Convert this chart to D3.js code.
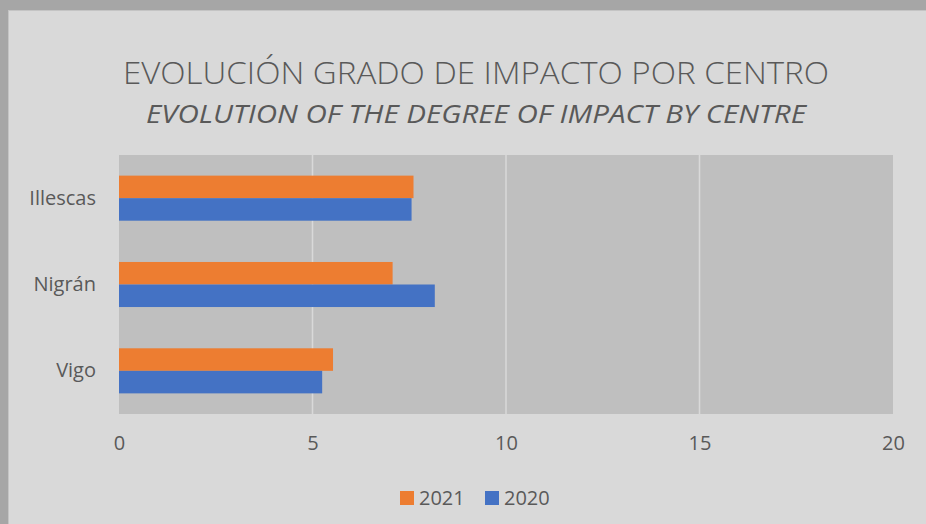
<!DOCTYPE html>
<html>
<head>
<meta charset="utf-8">
<script src="https://cdn.jsdelivr.net/npm/d3@7"></script>
<style>
  body { margin: 0; background: #a6a6a6; }
  svg text { font-family: "Open Sans", sans-serif; fill: #595959; }
</style>
</head>
<body>
<div id="chart"></div>
<script>
// data
var centros = ["Illescas", "Nigrán", "Vigo"];
var series = ["2021", "2020"];
var valores2021 = [7.61, 7.07, 5.53];
var valores2020 = [7.56, 8.16, 5.25];
var ticks = [0, 5, 10, 15, 20];
var colores = ["#ed7d31", "#4472c4"];

var W = 926, H = 524;
var svg = d3.select("#chart").append("svg")
    .attr("width", W).attr("height", H);

// frame (top & left darker edge like the screenshot)
svg.append("rect").attr("width", W).attr("height", H).attr("fill", "#a6a6a6");
svg.append("rect").attr("x", 8).attr("y", 10).attr("width", W - 8).attr("height", H - 10)
    .attr("fill", "#d9d9d9");
svg.append("line").attr("x1", 8).attr("x2", W).attr("y1", 10.5).attr("y2", 10.5)
    .attr("stroke", "#c4c4c4");
svg.append("line").attr("x1", 8.5).attr("x2", 8.5).attr("y1", 10).attr("y2", H)
    .attr("stroke", "#c4c4c4");

// titles
svg.append("text").attr("x", 476).attr("y", 84).attr("text-anchor", "middle")
    .attr("font-size", 32).attr("font-weight", 300)
    .attr("textLength", 706).attr("lengthAdjust", "spacingAndGlyphs")
    .text("EVOLUCIÓN GRADO DE IMPACTO POR CENTRO");
svg.append("text").attr("x", 476).attr("y", 123).attr("text-anchor", "middle")
    .attr("font-size", 25).attr("font-style", "italic")
    .attr("textLength", 660).attr("lengthAdjust", "spacingAndGlyphs")
    .text("EVOLUTION OF THE DEGREE OF IMPACT BY CENTRE");

var pLeft = 119, pRight = 893, pTop = 155, pBottom = 414;

var x = d3.scaleLinear().domain([0, 20]).range([pLeft, pRight]);
var y = d3.scaleBand().domain(centros).range([pTop, pBottom])
    .paddingInner(0.478).paddingOuter(0.239);
var ySub = d3.scaleBand().domain(series).range([0, y.bandwidth()]);

// plot area
svg.append("rect").attr("x", pLeft).attr("y", pTop)
    .attr("width", pRight - pLeft).attr("height", pBottom - pTop)
    .attr("fill", "#bfbfbf");

// grid lines
svg.selectAll(".grid").data(ticks.slice(1, -1)).enter().append("line")
    .attr("class", "grid")
    .attr("x1", function(d) { return x(d); }).attr("x2", function(d) { return x(d); })
    .attr("y1", pTop).attr("y2", pBottom)
    .attr("stroke", "#d9d9d9").attr("stroke-width", 1.5);

var datos = centros.map(function(c, i) {
    return { centro: c, vals: [valores2021[i], valores2020[i]] };
});

var g = svg.selectAll(".grupo").data(datos).enter().append("g")
    .attr("class", "grupo")
    .attr("transform", function(d) { return "translate(0," + y(d.centro) + ")"; });

g.selectAll("rect").data(function(d) { return d.vals; }).enter().append("rect")
    .attr("x", x(0))
    .attr("y", function(d, i) { return ySub(series[i]); })
    .attr("width", function(d) { return x(d) - x(0); })
    .attr("height", ySub.bandwidth())
    .attr("fill", function(d, i) { return colores[i]; });

// x axis labels
var xAxis = d3.axisBottom(x).tickValues(ticks).tickSize(0).tickPadding(22);
var ax = svg.append("g").attr("transform", "translate(0," + pBottom + ")").call(xAxis);
ax.select(".domain").remove();
ax.selectAll("text").attr("font-size", 20).attr("fill", null);
ax.attr("font-family", null).attr("font-size", null);

// y axis labels
var yAxis = d3.axisLeft(y).tickSize(0).tickPadding(23);
var ay = svg.append("g").attr("transform", "translate(" + pLeft + ",0)").call(yAxis);
ay.select(".domain").remove();
ay.selectAll("text").attr("font-size", 20).attr("fill", null);
ay.attr("font-family", null).attr("font-size", null);

// legend
var leg = svg.append("g").attr("transform", "translate(400,491)");
var item = leg.selectAll("g").data(series).enter().append("g")
    .attr("transform", function(d, i) { return "translate(" + (i * 85) + ",0)"; });
item.append("rect").attr("width", 14).attr("height", 14)
    .attr("fill", function(d, i) { return colores[i]; });
item.append("text").attr("x", 19).attr("y", 14).attr("font-size", 20)
    .text(function(d) { return d; });
</script>
</body>
</html>
